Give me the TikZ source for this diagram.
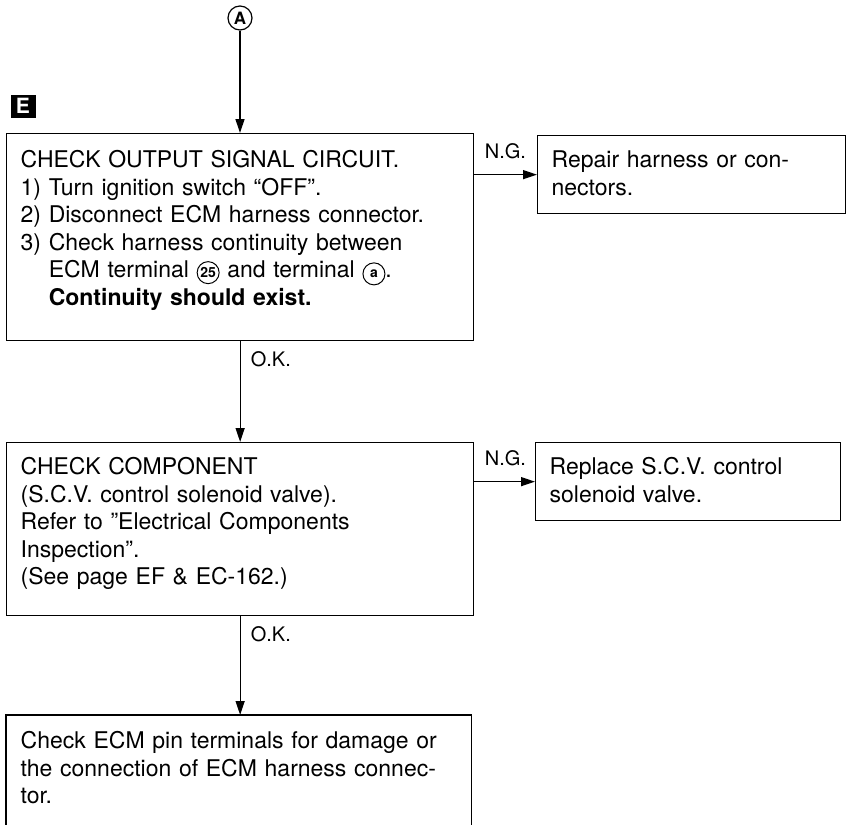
\documentclass[tikz,border=0pt]{standalone}
\usepackage{fontspec}
\setmainfont{TeX Gyre Heros}
\usepackage{tikz}
\usetikzlibrary{positioning,arrows.meta,calc}

\tikzset{cnum/.style={circle, draw, line width=1pt, inner sep=0pt, minimum size=22pt, font=\fontsize{14}{14}\selectfont\bfseries}}
\newcommand{\circnum}[2]{\tikz[baseline=(#1.base)]\node[cnum] (#1) {#2};}

\begin{document}
\begin{tikzpicture}[
    x=1pt, y=-1pt,
    font=\fontsize{23}{27.5}\selectfont,
    b/.style={draw, line width=1.3pt, anchor=north west, align=left, inner xsep=14pt, inner ysep=10pt},
    fl/.style={-{Triangle[length=14pt, width=9pt]}, line width=1.3pt},
    lb/.style={font=\fontsize{20}{20}\selectfont, anchor=base west, inner sep=0pt},
]
    \useasboundingbox (0,0) rectangle (847,825);
    \node[circle, draw, line width=1.2pt, inner sep=0pt, minimum size=24pt, font=\fontsize{17}{17}\selectfont\bfseries] (a) at (240,18) {A};
    \node[fill=black, text=white, font=\fontsize{21}{21}\selectfont\bfseries, minimum width=25pt, minimum height=23pt, inner sep=0pt] (e) at (23,106) {E};
    \node[b, text width=439pt, text height=24pt, text depth=163pt] (chk) at (6,133)
        {CHECK OUTPUT SIGNAL CIRCUIT.\\
         1) Turn ignition switch ``OFF''.\\
         2) Disconnect ECM harness connector.\\
         3) Check harness continuity between\\
         \hphantom{3) }ECM terminal \circnum{t25}{25} and terminal \circnum{ta}{a}.\\
         \hphantom{3) }\textbf{Continuity should exist.}};
    \node[b, text width=280pt, text height=22pt, text depth=36pt] (rep) at (537,135)
        {Repair harness or con-\\nectors.};
    \node[b, text width=439pt, text height=22pt, text depth=131pt] (comp) at (6,442)
        {CHECK COMPONENT\\
         (S.C.V. control solenoid valve).\\
         Refer to ''Electrical Components\\
         Inspection''.\\
         (See page EF \& EC-162.)};
    \node[b, text width=277pt, text height=22pt, text depth=36pt] (repl) at (535,442)
        {Replace S.C.V. control\\solenoid valve.};
    \node[b, draw=none, text width=436pt, text height=23pt, text depth=68pt] (ecm) at (6,715)
        {Check ECM pin terminals for damage or\\
         the connection of ECM harness connec-\\
         tor.};
    \draw[line width=1.3pt] (ecm.south west) |- (ecm.north east) -- (ecm.south east);
    \draw[fl] (a) -- (a |- chk.north);
    \draw[fl] (rep.west -| chk.east) -- (rep.west) node[lb, pos=0, xshift=10pt, yshift=16pt] (ng1) {N.G.};
    \draw[fl] (chk.south) -- (comp.north) node[lb, pos=0, xshift=10pt, yshift=-25pt] (ok1) {O.K.};
    \draw[fl] (repl.west -| comp.east) -- (repl.west) node[lb, pos=0, xshift=10pt, yshift=16pt] (ng2) {N.G.};
    \draw[fl] (comp.south) -- (comp.south |- ecm.north) node[lb, pos=0, xshift=10pt, yshift=-25pt] (ok2) {O.K.};
\end{tikzpicture}
\end{document}
